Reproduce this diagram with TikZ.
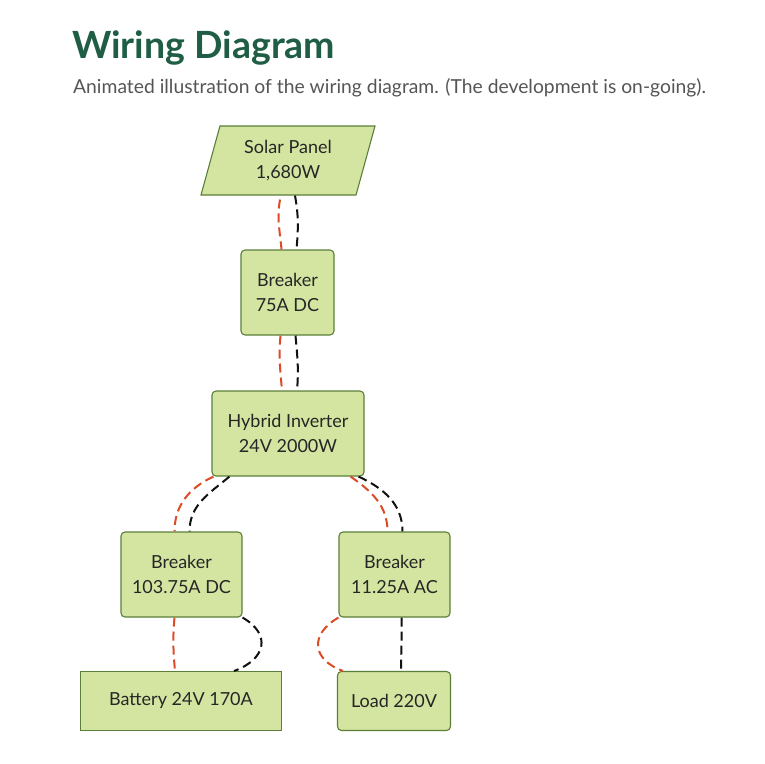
\documentclass[tikz,border=0pt]{standalone}
\usepackage{fontspec}
\setmainfont{Lato}
\usetikzlibrary{positioning,shapes.geometric,arrows.meta}
\definecolor{titlegreen}{HTML}{1F5E45}
\definecolor{subgray}{HTML}{555555}
\definecolor{boxfill}{HTML}{D4E5A1}
\definecolor{boxline}{HTML}{5B7F3A}
\definecolor{posred}{HTML}{DD4B26}
\definecolor{negblack}{HTML}{111111}

\tikzset{
  part/.style={draw=boxline, fill=boxfill, line width=1.1pt, rounded corners=4pt,
    align=center, text=black!85, font=\fontsize{18}{25}\selectfont, inner sep=0pt},
  posline/.style={posred, line width=2pt, dash pattern=on 9pt off 5pt},
  negline/.style={negblack, line width=2pt, dash pattern=on 9pt off 5pt}
}

\begin{document}
\begin{tikzpicture}[x=1pt, y=-1pt]
\useasboundingbox (0,0) rectangle (764,764);

% Heading
\node[anchor=base west, inner sep=0pt, text=titlegreen, font=\fontsize{37.5}{40}\selectfont\bfseries] (title) at (72,58) {Wiring Diagram};
\node[anchor=base west, inner sep=0pt, text=subgray, font=\fontsize{19.3}{22}\selectfont] (subtitle) at (73,93) {Animated illustration of the wiring diagram. (The development is on-going).};

% Parts
\node[part, rounded corners=0pt, trapezium, trapezium left angle=65, trapezium right angle=115,
  trapezium stretches body, minimum width=174pt, minimum height=69pt] (solar) at (288,160.5) {Solar Panel\\1,680W};
\node[part, minimum width=93pt, minimum height=85pt] (brk1) at (287.5,292.5) {Breaker\\75A DC};
\node[part, minimum width=152pt, minimum height=85pt] (inv) at (288,433.5) {Hybrid Inverter\\24V 2000W};
\node[part, minimum width=121pt, minimum height=85pt] (brk2) at (181.5,574.5) {Breaker\\103.75A DC};
\node[part, minimum width=111pt, minimum height=85pt] (brk3) at (394.5,574.5) {Breaker\\11.25A AC};
\node[part, rounded corners=0pt, line width=1pt, minimum width=201pt, minimum height=59pt] (batt) at (181,701) {Battery 24V 170A};
\node[part, minimum width=113pt, minimum height=59pt] (load) at (394,701) {Load 220V};

% Wires: solar panel to breaker
\draw[posline] ([xshift=-8pt, yshift=-4pt]solar.south) to[out=-100, in=95] ([xshift=-6pt]brk1.north);
\draw[negline] ([xshift=7pt]solar.south) to[out=-80, in=85] ([xshift=9pt]brk1.north);

% Wires: breaker to inverter
\draw[posline] ([xshift=-7pt]brk1.south) to[out=-95, in=95] ([xshift=-6pt]inv.north);
\draw[negline] ([xshift=8pt]brk1.south) to[out=-85, in=85] ([xshift=9pt]inv.north);

% Wires: inverter to battery breaker
\draw[posline] ([xshift=2pt]inv.south west) to[out=-155, in=90] ([xshift=-7pt]brk2.north);
\draw[negline] ([xshift=18pt]inv.south west) to[out=-140, in=90] ([xshift=8pt]brk2.north);

% Wires: inverter to load breaker
\draw[posline] ([xshift=-14pt]inv.south east) to[out=-35, in=90] ([xshift=-7pt]brk3.north);
\draw[negline] ([xshift=-6pt]inv.south east) to[out=-25, in=90] ([xshift=8pt]brk3.north);

% Wires: breaker to battery
\draw[posline] ([xshift=-7pt]brk2.south) to[out=-95, in=95] ([xshift=-6pt]batt.north);
\draw[negline] (brk2.south east) to[out=-30, in=20, looseness=1.6] ([xshift=53pt]batt.north);

% Wires: breaker to load
\draw[posline] (brk3.south west) to[out=-150, in=160, looseness=1.6] ([xshift=6pt]load.north west);
\draw[negline] ([xshift=7pt]brk3.south) to[out=-88, in=90] ([xshift=7pt]load.north);

\end{tikzpicture}
\end{document}
